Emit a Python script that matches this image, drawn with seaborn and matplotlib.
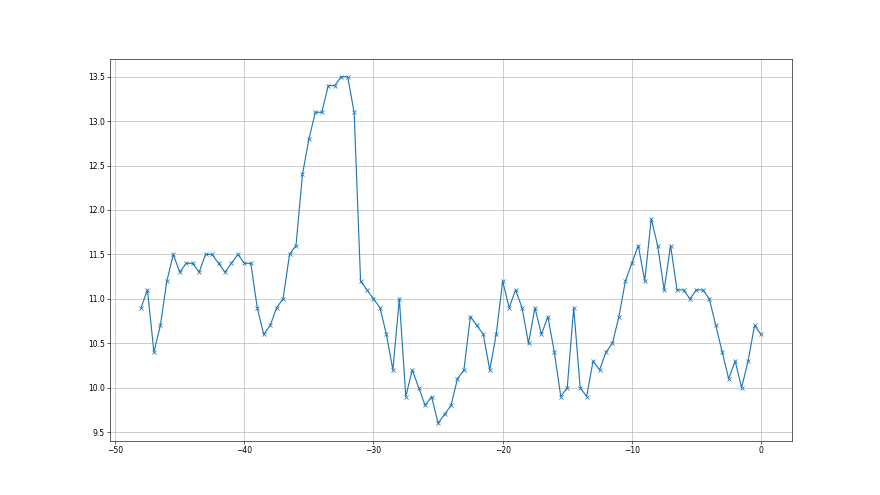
import matplotlib
matplotlib.use("Agg")
import matplotlib.pyplot as plt
import seaborn as sns
import numpy as np
import pandas as pd

x_vals = [-48.0, -47.5, -47.0, -46.5, -46.0, -45.5, -45.0, -44.5, -44.0, -43.5,
          -43.0, -42.5, -42.0, -41.5, -41.0, -40.5, -40.0, -39.5, -39.0, -38.5,
          -38.0, -37.5, -37.0, -36.5, -36.0, -35.5, -35.0, -34.5, -34.0, -33.5,
          -33.0, -32.5, -32.0, -31.5, -31.0, -30.5, -30.0, -29.5, -29.0, -28.5,
          -28.0, -27.5, -27.0, -26.5, -26.0, -25.5, -25.0, -24.5, -24.0, -23.5,
          -23.0, -22.5, -22.0, -21.5, -21.0, -20.5, -20.0, -19.5, -19.0, -18.5,
          -18.0, -17.5, -17.0, -16.5, -16.0, -15.5, -15.0, -14.5, -14.0, -13.5,
          -13.0, -12.5, -12.0, -11.5, -11.0, -10.5, -10.0, -9.5, -9.0, -8.5,
          -8.0, -7.5, -7.0, -6.5, -6.0, -5.5, -5.0, -4.5, -4.0, -3.5,
          -3.0, -2.5, -2.0, -1.5, -1.0, -0.5, 0.0]

y_vals = [10.9, 11.1, 10.4, 10.7, 11.2, 11.5, 11.3, 11.4, 11.4, 11.3,
          11.5, 11.5, 11.4, 11.3, 11.4, 11.5, 11.4, 11.4, 10.9, 10.6,
          10.7, 10.9, 11.0, 11.5, 11.6, 12.4, 12.8, 13.1, 13.1, 13.4,
          13.4, 13.5, 13.5, 13.1, 11.2, 11.1, 11.0, 10.9, 10.6, 10.2,
          11.0, 9.9, 10.2, 10.0, 9.8, 9.9, 9.6, 9.7, 9.8, 10.1,
          10.2, 10.8, 10.7, 10.6, 10.2, 10.6, 11.2, 10.9, 11.1, 10.9,
          10.5, 10.9, 10.6, 10.8, 10.4, 9.9, 10.0, 10.9, 10.0, 9.9,
          10.3, 10.2, 10.4, 10.5, 10.8, 11.2, 11.4, 11.6, 11.2, 11.9,
          11.6, 11.1, 11.6, 11.1, 11.1, 11.0, 11.1, 11.1, 11.0, 10.7,
          10.4, 10.1, 10.3, 10.0, 10.3, 10.7, 10.6]

df = pd.DataFrame({"x": x_vals, "y": y_vals})

fig, ax = plt.subplots(figsize=(16, 9), dpi=55)
sns.lineplot(data=df, x="x", y="y", ax=ax, color="#1f77b4", marker="x",
             markersize=6, markeredgecolor="#1f77b4", markeredgewidth=1.0,
             linewidth=1.5)
ax.grid(True, color="#b0b0b0", linewidth=0.8)
ax.set_xlabel("")
ax.set_ylabel("")
ax.set_xticks([-50, -40, -30, -20, -10, 0])
ax.set_yticks([9.5, 10.0, 10.5, 11.0, 11.5, 12.0, 12.5, 13.0, 13.5])
fig.savefig("out.png", dpi=55)
